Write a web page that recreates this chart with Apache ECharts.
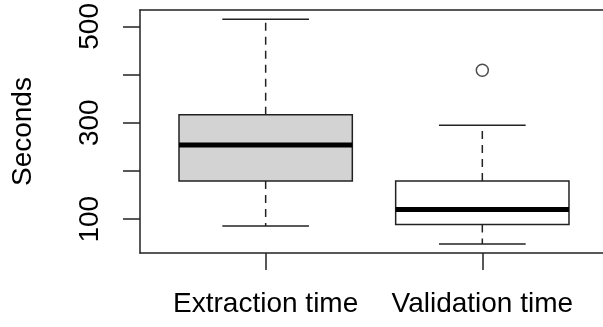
<!DOCTYPE html>
<html>
<head>
<meta charset="utf-8">
<script src="https://cdn.jsdelivr.net/npm/echarts@6/dist/echarts.min.js"></script>
<style>
html,body{margin:0;padding:0;background:#fff;}
#chart{width:603px;height:327px;}
</style>
</head>
<body>
<div id="chart"></div>
<script>
var categories = ['Extraction time', 'Validation time'];
var positions = [1, 2];
var whiskerLow = [85.6, 48.5];
var q1 = [179, 89];
var medians = [254, 120];
var q3 = [316.5, 179];
var whiskerHigh = [515, 295];
var outliers = [[2, 409]];
var yTicks = [100, 200, 300, 400, 500];
var yLabels = [100, 300, 500];
var yMin = 29.8, yMax = 533.7;
var xMin = 0.42, xMax = 2.557;

var boxData = categories.map(function (c, i) {
  return [positions[i], whiskerLow[i], q1[i], medians[i], q3[i], whiskerHigh[i]];
});

var FONT = "'Liberation Sans', Arial, sans-serif";
var chart = echarts.init(document.getElementById('chart'), null, {renderer: 'canvas'});

function renderBox(params, api) {
  var x = api.value(0);
  var boxW = api.size([0.8, 0])[0];
  var capW = api.size([0.4, 0])[0];
  var pLo = api.coord([x, api.value(1)]);
  var pQ1 = api.coord([x, api.value(2)]);
  var pMed = api.coord([x, api.value(3)]);
  var pQ3 = api.coord([x, api.value(4)]);
  var pHi = api.coord([x, api.value(5)]);
  var cx = pMed[0];
  var lineStyle = {stroke: '#222', lineWidth: 1.5};
  var dashStyle = {stroke: '#222', lineWidth: 1.5, lineDash: [8, 6]};
  return {
    type: 'group',
    children: [
      {type: 'line', shape: {x1: cx, y1: pQ3[1], x2: cx, y2: pHi[1]}, style: dashStyle},
      {type: 'line', shape: {x1: cx, y1: pQ1[1], x2: cx, y2: pLo[1]}, style: dashStyle},
      {type: 'line', shape: {x1: cx - capW / 2, y1: pHi[1], x2: cx + capW / 2, y2: pHi[1]}, style: lineStyle},
      {type: 'line', shape: {x1: cx - capW / 2, y1: pLo[1], x2: cx + capW / 2, y2: pLo[1]}, style: lineStyle},
      {type: 'rect', shape: {x: cx - boxW / 2, y: pQ3[1], width: boxW, height: pQ1[1] - pQ3[1]},
        style: {fill: params.dataIndex === 0 ? '#d3d3d3' : '#ffffff', stroke: '#222', lineWidth: 1.5}},
      {type: 'line', shape: {x1: cx - boxW / 2, y1: pMed[1], x2: cx + boxW / 2, y2: pMed[1]},
        style: {stroke: '#000', lineWidth: 5}}
    ]
  };
}

var option = {
  animation: false,
  backgroundColor: '#ffffff',
  grid: {left: 140, top: 9, bottom: 74, right: 0, show: false},
  xAxis: [
    {
      type: 'value',
      min: xMin, max: xMax,
      position: 'bottom',
      axisLine: {show: true, onZero: false, lineStyle: {color: '#222', width: 1.5}},
      axisTick: {show: true, length: 17, customValues: positions, lineStyle: {color: '#222', width: 1.5}},
      axisLabel: {show: true, customValues: positions, color: '#000', fontSize: 28, fontFamily: FONT, margin: 37,
        formatter: function (v) { return categories[positions.indexOf(Math.round(v))]; }},
      splitLine: {show: false}
    },
    {
      type: 'value',
      min: xMin, max: xMax,
      position: 'top',
      axisLine: {show: true, onZero: false, lineStyle: {color: '#222', width: 1.5}},
      axisTick: {show: false},
      axisLabel: {show: false},
      splitLine: {show: false}
    }
  ],
  yAxis: {
    type: 'value',
    min: yMin, max: yMax,
    name: 'Seconds',
    nameLocation: 'middle',
    nameRotate: 90,
    nameGap: 103,
    nameTextStyle: {color: '#000', fontSize: 28, fontFamily: FONT},
    axisLine: {show: true, onZero: false, lineStyle: {color: '#222', width: 1.5}},
    axisTick: {show: true, length: 17, customValues: yTicks, lineStyle: {color: '#222', width: 1.5}},
    axisLabel: {show: true, customValues: yLabels, rotate: 90, color: '#000', fontSize: 28, fontFamily: FONT, margin: 36},
    splitLine: {show: false}
  },
  series: [
    {
      type: 'custom',
      renderItem: renderBox,
      data: boxData,
      encode: {x: 0, y: [1, 2, 3, 4, 5]},
      z: 2
    },
    {
      type: 'scatter',
      data: outliers,
      symbol: 'circle',
      symbolSize: 12,
      itemStyle: {color: '#ffffff', borderColor: '#222', borderWidth: 1.5},
      z: 3
    }
  ]
};
chart.setOption(option);
</script>
</body>
</html>
